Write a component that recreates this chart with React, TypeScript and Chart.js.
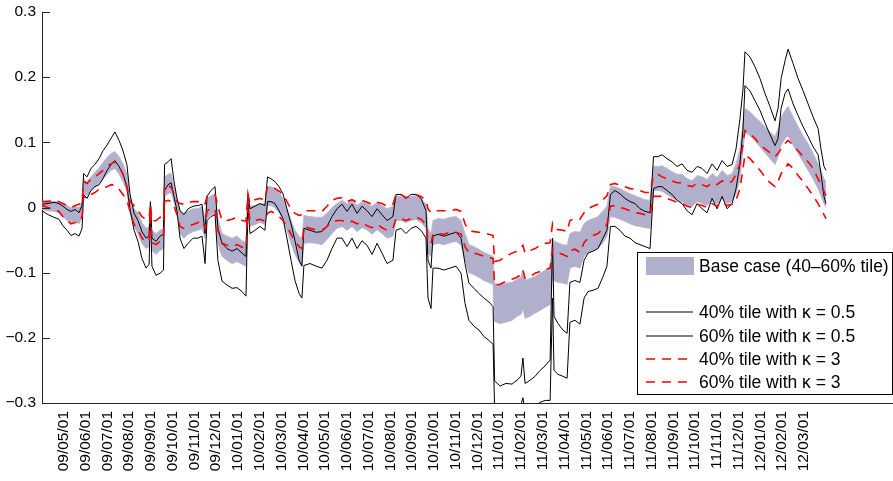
import { useEffect, useRef } from 'react';
import { Chart, registerables } from 'chart.js';

Chart.register(...registerables);

// Month tick labels (yy/mm/dd), placed at whole months counted from 09/04/01
const monthTicks = [
  '09/05/01', '09/06/01', '09/07/01', '09/08/01', '09/09/01', '09/10/01', '09/11/01', '09/12/01',
  '10/01/01', '10/02/01', '10/03/01', '10/04/01', '10/05/01', '10/06/01', '10/07/01', '10/08/01',
  '10/09/01', '10/10/01', '10/11/01', '10/12/01',
  '11/01/01', '11/02/01', '11/03/01', '11/04/01', '11/05/01', '11/06/01', '11/07/01', '11/08/01',
  '11/09/01', '11/10/01', '11/11/01', '11/12/01',
  '12/01/01', '12/02/01', '12/03/01',
];

const yTickValues = [-0.3, -0.2, -0.1, 0, 0.1, 0.2, 0.3];
const yTickLabels = ['\u22120.3', '\u22120.2', '\u22120.1', '0', '0.1', '0.2', '0.3'];

// Time in months since 09/04/01
const months = [
  0.00, 0.28, 0.55, 0.78, 0.96, 1.15, 1.33, 1.52, 1.70, 1.84,
  1.91, 2.07, 2.25, 2.43, 2.62, 2.80, 2.99, 3.17, 3.35, 3.54,
  3.72, 3.90, 4.04, 4.23, 4.41, 4.59, 4.78, 4.92, 4.98, 5.05,
  5.24, 5.42, 5.58, 5.63, 5.79, 5.93, 6.06, 6.20, 6.34, 6.52,
  6.71, 6.94, 7.17, 7.35, 7.49, 7.58, 7.76, 7.95, 8.08, 8.27,
  8.50, 8.73, 8.96, 9.19, 9.37, 9.46, 9.55, 9.78, 10.01, 10.24,
  10.36, 10.52, 10.70, 10.89, 11.07, 11.25, 11.44, 11.62, 11.81, 11.94,
  12.03, 12.31, 12.59, 12.86, 13.09, 13.32, 13.55, 13.78, 14.01, 14.24,
  14.47, 14.70, 14.93, 15.16, 15.39, 15.62, 15.85, 16.12, 16.26, 16.49,
  16.72, 16.95, 17.18, 17.41, 17.64, 17.73, 17.87, 17.96, 18.19, 18.47,
  18.74, 19.02, 19.25, 19.43, 19.61, 19.84, 20.07, 20.30, 20.53, 20.72,
  20.79, 21.04, 21.31, 21.59, 21.82, 22.00, 22.09, 22.19, 22.42, 22.65,
  22.88, 23.11, 23.34, 23.45, 23.52, 23.70, 23.93, 24.12, 24.25, 24.48,
  24.71, 24.90, 25.08, 25.31, 25.54, 25.77, 25.95, 26.11, 26.32, 26.55,
  26.78, 27.01, 27.24, 27.47, 27.70, 27.93, 28.09, 28.30, 28.48, 28.71,
  28.94, 29.17, 29.40, 29.63, 29.86, 30.09, 30.32, 30.55, 30.78, 31.01,
  31.24, 31.47, 31.70, 31.88, 32.06, 32.20, 32.29, 32.52, 32.75, 32.98,
  33.21, 33.44, 33.67, 33.81, 33.95, 34.13, 34.27, 34.50, 34.73, 34.96,
  35.19, 35.42, 35.65, 35.78, 35.92, 36.01,
];

// 60% tile, kappa = 0.5
const kappa05p60 = [
  0.005, 0.006, 0.008, 0.006, 0.002, -0.003, -0.006, -0.003, -0.008, 0.003,
  0.052, 0.047, 0.060, 0.066, 0.075, 0.087, 0.096, 0.106, 0.116, 0.103,
  0.087, 0.066, 0.021, -0.009, -0.020, -0.037, -0.047, -0.044, 0.009, -0.047,
  -0.052, -0.044, -0.041, 0.066, 0.070, 0.075, 0.041, 0.014, -0.005, -0.011,
  -0.002, 0.002, 0.003, 0.005, -0.040, 0.017, 0.026, 0.032, -0.032, -0.055,
  -0.063, -0.067, -0.063, -0.070, -0.075, 0.021, -0.002, 0.002, 0.006, 0.003,
  0.047, 0.044, 0.040, 0.032, 0.021, -0.002, -0.025, -0.051, -0.081, -0.090,
  -0.032, -0.035, -0.038, -0.037, -0.029, -0.014, -0.002, 0.005, -0.006, 0.005,
  -0.009, 0.002, -0.005, -0.014, -0.002, -0.011, -0.020, -0.014, 0.020, 0.020,
  0.014, 0.020, 0.020, 0.014, -0.005, -0.081, -0.093, -0.044, -0.041, -0.044,
  -0.041, -0.038, -0.047, -0.086, -0.116, -0.124, -0.132, -0.139, -0.145, -0.152,
  -0.266, -0.274, -0.270, -0.271, -0.265, -0.259, -0.231, -0.270, -0.265, -0.259,
  -0.250, -0.243, -0.234, -0.047, -0.167, -0.178, -0.188, -0.193, -0.115, -0.112,
  -0.115, -0.081, -0.070, -0.067, -0.063, -0.047, -0.035, 0.020, 0.026, 0.021,
  0.014, 0.009, 0.006, -0.002, -0.006, -0.008, 0.078, 0.078, 0.081, 0.075,
  0.070, 0.063, 0.067, 0.057, 0.054, 0.063, 0.060, 0.052, 0.067, 0.057,
  0.072, 0.063, 0.066, 0.090, 0.136, 0.182, 0.239, 0.231, 0.216, 0.198,
  0.175, 0.155, 0.133, 0.152, 0.198, 0.225, 0.243, 0.221, 0.198, 0.179,
  0.159, 0.139, 0.121, 0.090, 0.063, 0.057,
];

// 40% tile, kappa = 0.5
const kappa05p40 = [
  -0.005, -0.011, -0.015, -0.018, -0.028, -0.035, -0.043, -0.040, -0.044, -0.032,
  0.020, 0.014, 0.026, 0.032, 0.035, 0.044, 0.057, 0.066, 0.072, 0.063,
  0.051, 0.032, -0.002, -0.035, -0.052, -0.078, -0.093, -0.087, -0.006, -0.090,
  -0.104, -0.101, -0.096, 0.026, 0.035, 0.038, 0.017, -0.005, -0.047, -0.063,
  -0.055, -0.047, -0.047, -0.044, -0.086, -0.020, -0.014, -0.011, -0.081, -0.113,
  -0.119, -0.124, -0.123, -0.129, -0.136, 0.006, -0.040, -0.035, -0.029, -0.035,
  0.009, 0.009, 0.006, -0.005, -0.017, -0.047, -0.081, -0.112, -0.132, -0.139,
  -0.089, -0.086, -0.090, -0.093, -0.081, -0.063, -0.047, -0.047, -0.060, -0.047,
  -0.063, -0.051, -0.058, -0.072, -0.055, -0.070, -0.086, -0.081, -0.035, -0.032,
  -0.040, -0.032, -0.029, -0.035, -0.047, -0.139, -0.155, -0.093, -0.093, -0.096,
  -0.093, -0.090, -0.101, -0.147, -0.173, -0.182, -0.188, -0.198, -0.204, -0.210,
  -0.308, -0.315, -0.311, -0.314, -0.308, -0.303, -0.292, -0.311, -0.308, -0.305,
  -0.299, -0.296, -0.296, -0.139, -0.250, -0.256, -0.259, -0.262, -0.176, -0.173,
  -0.179, -0.139, -0.129, -0.127, -0.124, -0.106, -0.090, -0.029, -0.029, -0.035,
  -0.044, -0.047, -0.054, -0.057, -0.060, -0.063, 0.029, 0.032, 0.032, 0.026,
  0.020, 0.011, 0.006, -0.005, -0.011, 0.006, -0.002, -0.008, 0.014, -0.002,
  0.017, -0.002, 0.006, 0.029, 0.067, 0.121, 0.187, 0.179, 0.164, 0.149,
  0.130, 0.112, 0.095, 0.106, 0.152, 0.175, 0.182, 0.159, 0.141, 0.124,
  0.109, 0.093, 0.081, 0.052, 0.017, 0.006,
];

// Base case, 60% tile
const base60 = [
  0.009, 0.011, 0.009, 0.009, 0.006, 0.003, 0.000, 0.002, 0.000, 0.008,
  0.044, 0.038, 0.047, 0.054, 0.061, 0.069, 0.077, 0.083, 0.086, 0.078,
  0.067, 0.051, 0.014, -0.002, -0.009, -0.023, -0.032, -0.029, 0.008, -0.035,
  -0.040, -0.035, -0.032, 0.047, 0.051, 0.052, 0.032, 0.014, -0.005, -0.009,
  -0.005, -0.002, -0.002, 0.002, -0.017, 0.014, 0.018, 0.021, -0.017, -0.040,
  -0.044, -0.047, -0.044, -0.051, -0.054, 0.014, 0.002, 0.003, 0.006, 0.005,
  0.032, 0.032, 0.029, 0.023, 0.014, -0.002, -0.020, -0.035, -0.044, -0.047,
  -0.012, -0.014, -0.015, -0.015, -0.009, 0.000, 0.006, 0.011, 0.006, 0.011,
  0.003, 0.009, 0.006, 0.002, 0.008, 0.003, -0.002, 0.002, 0.018, 0.017,
  0.014, 0.017, 0.018, 0.014, 0.005, -0.032, -0.040, -0.020, -0.017, -0.018,
  -0.015, -0.014, -0.020, -0.040, -0.057, -0.060, -0.064, -0.069, -0.072, -0.075,
  -0.116, -0.119, -0.116, -0.115, -0.110, -0.107, -0.096, -0.112, -0.109, -0.106,
  -0.101, -0.096, -0.093, -0.047, -0.051, -0.054, -0.057, -0.058, -0.040, -0.037,
  -0.038, -0.025, -0.020, -0.017, -0.014, -0.005, 0.002, 0.032, 0.032, 0.029,
  0.025, 0.021, 0.018, 0.015, 0.012, 0.011, 0.063, 0.063, 0.064, 0.060,
  0.055, 0.051, 0.051, 0.044, 0.041, 0.049, 0.047, 0.043, 0.052, 0.046,
  0.057, 0.049, 0.052, 0.067, 0.090, 0.129, 0.152, 0.147, 0.139, 0.132,
  0.124, 0.116, 0.109, 0.121, 0.139, 0.149, 0.155, 0.139, 0.124, 0.110,
  0.098, 0.083, 0.067, 0.057, 0.044, 0.040,
];

// Base case, 40% tile
const base40 = [
  -0.003, -0.005, -0.006, -0.008, -0.014, -0.020, -0.023, -0.021, -0.025, -0.015,
  0.023, 0.018, 0.026, 0.031, 0.038, 0.044, 0.051, 0.057, 0.060, 0.051,
  0.040, 0.025, -0.009, -0.029, -0.040, -0.055, -0.063, -0.060, -0.009, -0.066,
  -0.072, -0.066, -0.063, 0.017, 0.021, 0.023, 0.009, -0.008, -0.040, -0.047,
  -0.041, -0.037, -0.035, -0.032, -0.047, -0.017, -0.011, -0.009, -0.055, -0.075,
  -0.081, -0.086, -0.083, -0.087, -0.090, -0.009, -0.029, -0.026, -0.023, -0.026,
  0.003, 0.003, 0.000, -0.008, -0.017, -0.035, -0.055, -0.072, -0.084, -0.090,
  -0.055, -0.054, -0.055, -0.057, -0.049, -0.040, -0.032, -0.029, -0.035, -0.029,
  -0.037, -0.031, -0.034, -0.041, -0.034, -0.040, -0.047, -0.044, -0.020, -0.020,
  -0.023, -0.020, -0.018, -0.023, -0.032, -0.070, -0.075, -0.057, -0.055, -0.057,
  -0.054, -0.052, -0.058, -0.081, -0.100, -0.103, -0.107, -0.112, -0.115, -0.118,
  -0.175, -0.178, -0.176, -0.173, -0.167, -0.164, -0.155, -0.170, -0.167, -0.162,
  -0.158, -0.153, -0.149, -0.106, -0.112, -0.115, -0.116, -0.118, -0.093, -0.090,
  -0.093, -0.075, -0.069, -0.066, -0.063, -0.054, -0.044, -0.014, -0.015, -0.018,
  -0.021, -0.025, -0.028, -0.029, -0.031, -0.032, 0.026, 0.026, 0.025, 0.020,
  0.015, 0.011, 0.009, 0.003, 0.002, 0.009, 0.006, 0.003, 0.011, 0.005,
  0.014, 0.006, 0.009, 0.021, 0.044, 0.090, 0.116, 0.110, 0.103, 0.093,
  0.084, 0.075, 0.066, 0.078, 0.096, 0.106, 0.110, 0.096, 0.083, 0.070,
  0.057, 0.044, 0.029, 0.018, 0.006, 0.000,
];

// 60% tile, kappa = 3
const kappa3p60 = [
  0.009, 0.009, 0.011, 0.009, 0.006, 0.003, 0.000, 0.003, 0.005, 0.008,
  0.040, 0.037, 0.044, 0.047, 0.052, 0.057, 0.063, 0.067, 0.070, 0.063,
  0.051, 0.032, 0.009, 0.003, -0.005, -0.014, -0.018, -0.017, 0.006, -0.021,
  -0.020, -0.015, -0.014, 0.035, 0.034, 0.031, 0.021, 0.009, 0.006, 0.005,
  0.008, 0.009, 0.009, 0.011, 0.006, 0.017, 0.018, 0.020, 0.002, -0.020,
  -0.020, -0.018, -0.015, -0.020, -0.021, 0.021, 0.006, 0.012, 0.014, 0.011,
  0.032, 0.032, 0.029, 0.025, 0.020, 0.009, -0.002, -0.009, -0.012, -0.011,
  -0.005, -0.005, -0.005, -0.006, 0.002, 0.011, 0.014, 0.015, 0.009, 0.012,
  0.008, 0.011, 0.008, 0.005, 0.008, 0.006, 0.002, 0.005, 0.020, 0.020,
  0.015, 0.018, 0.020, 0.017, 0.011, -0.002, -0.008, -0.006, -0.005, -0.005,
  -0.005, -0.003, -0.006, -0.025, -0.035, -0.037, -0.038, -0.040, -0.041, -0.043,
  -0.083, -0.081, -0.075, -0.070, -0.067, -0.063, -0.058, -0.070, -0.066, -0.063,
  -0.058, -0.055, -0.054, -0.025, -0.032, -0.034, -0.035, -0.037, -0.020, -0.017,
  -0.018, -0.008, -0.002, 0.002, 0.005, 0.012, 0.018, 0.035, 0.037, 0.034,
  0.032, 0.029, 0.028, 0.026, 0.023, 0.023, 0.049, 0.051, 0.047, 0.044,
  0.041, 0.038, 0.038, 0.034, 0.032, 0.037, 0.035, 0.032, 0.038, 0.035,
  0.041, 0.037, 0.040, 0.051, 0.067, 0.098, 0.118, 0.113, 0.106, 0.096,
  0.090, 0.084, 0.078, 0.083, 0.090, 0.098, 0.103, 0.096, 0.087, 0.078,
  0.070, 0.060, 0.044, 0.035, 0.025, 0.018,
];

// 40% tile, kappa = 3
const kappa3p40 = [
  0.003, 0.000, -0.003, -0.006, -0.014, -0.020, -0.025, -0.023, -0.023, -0.014,
  0.017, 0.014, 0.020, 0.023, 0.028, 0.029, 0.032, 0.035, 0.034, 0.028,
  0.020, 0.011, -0.005, -0.026, -0.034, -0.047, -0.052, -0.051, -0.003, -0.054,
  -0.057, -0.052, -0.047, 0.009, 0.011, 0.009, 0.002, -0.011, -0.029, -0.032,
  -0.029, -0.026, -0.023, -0.020, -0.032, -0.005, -0.002, -0.002, -0.035, -0.055,
  -0.058, -0.060, -0.057, -0.061, -0.063, 0.006, -0.020, -0.020, -0.018, -0.021,
  -0.009, -0.006, -0.009, -0.014, -0.020, -0.029, -0.041, -0.052, -0.060, -0.063,
  -0.029, -0.032, -0.034, -0.035, -0.029, -0.023, -0.020, -0.020, -0.023, -0.021,
  -0.025, -0.023, -0.028, -0.031, -0.026, -0.031, -0.035, -0.032, -0.017, -0.017,
  -0.020, -0.017, -0.015, -0.018, -0.026, -0.052, -0.055, -0.041, -0.040, -0.041,
  -0.038, -0.038, -0.041, -0.060, -0.069, -0.070, -0.072, -0.075, -0.077, -0.078,
  -0.119, -0.118, -0.113, -0.110, -0.107, -0.103, -0.096, -0.109, -0.106, -0.101,
  -0.098, -0.095, -0.093, -0.063, -0.066, -0.069, -0.072, -0.075, -0.066, -0.064,
  -0.069, -0.054, -0.047, -0.043, -0.040, -0.032, -0.026, 0.002, 0.003, 0.000,
  -0.002, -0.005, -0.008, -0.009, -0.011, -0.012, 0.017, 0.017, 0.017, 0.014,
  0.011, 0.008, 0.006, 0.002, 0.000, 0.005, 0.003, 0.000, 0.006, 0.002,
  0.009, 0.003, 0.005, 0.011, 0.029, 0.060, 0.081, 0.075, 0.066, 0.057,
  0.047, 0.038, 0.032, 0.040, 0.052, 0.060, 0.067, 0.060, 0.049, 0.040,
  0.029, 0.018, 0.006, -0.002, -0.011, -0.017,
];

const FONT = "'Liberation Sans', Arial, Helvetica, sans-serif";
const BAND = 'rgb(176,176,204)';
const RED = '#ff0000';

const toPoints = (ys: number[]) => ys.map((y, i) => ({ x: months[i], y }));

// Small inward tick marks on the y axis
const innerTicks = {
  id: 'innerTicks',
  afterDatasetsDraw(chart: any) {
    const { ctx, chartArea, scales } = chart;
    const y = scales.y;
    ctx.save();
    ctx.strokeStyle = '#262626';
    ctx.lineWidth = 1;
    for (const v of yTickValues) {
      const py = Math.round(y.getPixelForValue(v)) + 0.5;
      ctx.beginPath();
      ctx.moveTo(chartArea.left, py);
      ctx.lineTo(chartArea.left + 8, py);
      ctx.stroke();
    }
    ctx.restore();
  },
};

// Boxed legend in the lower right corner of the plot
const legendBox = {
  id: 'legendBox',
  afterDraw(chart: any) {
    const { ctx, chartArea } = chart;
    const ds = chart.data.datasets;
    const w = 255;
    const h = 142;
    const left = Math.round(chartArea.right) - w - 1;
    const top = Math.round(chartArea.bottom) - 151;
    ctx.save();
    ctx.fillStyle = '#ffffff';
    ctx.fillRect(left, top, w, h);
    ctx.strokeStyle = '#000000';
    ctx.lineWidth = 1;
    ctx.strokeRect(left + 0.5, top + 0.5, w, h);

    ctx.font = `17.5px ${FONT}`;
    ctx.textBaseline = 'middle';
    ctx.textAlign = 'left';

    const band = ds.find((d: any) => d.legendKind === 'band');
    ctx.fillStyle = BAND;
    ctx.fillRect(left + 9, top + 5, 48, 18);
    ctx.fillStyle = '#000000';
    ctx.fillText(band.label, left + 62, top + 15);

    const lineRows = ['k05p40', 'k05p60', 'k3p40', 'k3p60'];
    const rowY = [60, 84, 107, 130];
    lineRows.forEach((key, i) => {
      const d = ds.find((s: any) => s.legendKind === key);
      const yy = top + rowY[i];
      ctx.save();
      ctx.strokeStyle = d.borderColor;
      ctx.lineWidth = d.borderWidth;
      ctx.setLineDash(d.borderDash || []);
      ctx.beginPath();
      ctx.moveTo(left + 9, yy);
      ctx.lineTo(left + 56, yy);
      ctx.stroke();
      ctx.restore();
      ctx.fillStyle = '#000000';
      ctx.fillText(d.label, left + 62, yy + 1);
    });
    ctx.restore();
  },
};

export default function App() {
  const canvasRef = useRef<HTMLCanvasElement | null>(null);

  useEffect(() => {
    const canvas = canvasRef.current;
    if (!canvas) return;

    const chart = new Chart(canvas, {
      type: 'line',
      data: {
        datasets: [
          {
            label: '60% tile with \u03ba = 3',
            legendKind: 'k3p60',
            data: toPoints(kappa3p60),
            borderColor: RED,
            borderWidth: 1.6,
            borderDash: [9, 7],
            pointRadius: 0,
            fill: false,
          } as any,
          {
            label: '40% tile with \u03ba = 3',
            legendKind: 'k3p40',
            data: toPoints(kappa3p40),
            borderColor: RED,
            borderWidth: 1.6,
            borderDash: [9, 7],
            pointRadius: 0,
            fill: false,
          } as any,
          {
            label: '60% tile with \u03ba = 0.5',
            legendKind: 'k05p60',
            data: toPoints(kappa05p60),
            borderColor: '#000000',
            borderWidth: 1,
            pointRadius: 0,
            fill: false,
          } as any,
          {
            label: '40% tile with \u03ba = 0.5',
            legendKind: 'k05p40',
            data: toPoints(kappa05p40),
            borderColor: '#000000',
            borderWidth: 1,
            pointRadius: 0,
            fill: false,
          } as any,
          {
            label: 'Base case (40\u201360% tile)',
            legendKind: 'band',
            data: toPoints(base60),
            borderColor: 'rgb(188,188,212)',
            borderWidth: 1,
            backgroundColor: BAND,
            pointRadius: 0,
            fill: '+1',
          } as any,
          {
            label: 'Base case 40%',
            legendKind: 'bandLow',
            data: toPoints(base40),
            borderColor: 'rgb(188,188,212)',
            borderWidth: 1,
            pointRadius: 0,
            fill: false,
          } as any,
        ],
      },
      options: {
        animation: false,
        responsive: false,
        devicePixelRatio: 1,
        layout: { padding: { top: 12, right: 0, bottom: 0, left: 0 } },
        plugins: {
          legend: { display: false },
          tooltip: { enabled: false },
        },
        elements: { line: { tension: 0 } },
        scales: {
          x: {
            type: 'linear',
            min: 0,
            max: 39.09,
            grid: { display: false, drawTicks: false },
            border: { display: true, color: '#262626', width: 1 },
            afterBuildTicks: (scale: any) => {
              scale.ticks = monthTicks.map((_, i) => ({ value: i + 1 }));
            },
            afterFit: (scale: any) => {
              scale.height = 78;
            },
            ticks: {
              autoSkip: false,
              minRotation: 90,
              maxRotation: 90,
              padding: 8,
              color: '#000000',
              font: { family: FONT, size: 15.5 },
              callback: (_v: any, i: number) => monthTicks[i],
            },
          },
          y: {
            type: 'linear',
            min: -0.3,
            max: 0.3,
            grid: { display: false, drawTicks: false },
            border: { display: true, color: '#262626', width: 1 },
            afterBuildTicks: (scale: any) => {
              scale.ticks = yTickValues.map((v) => ({ value: v }));
            },
            afterFit: (scale: any) => {
              scale.width = 42;
              scale.paddingTop = 0;
              scale.paddingBottom = 0;
            },
            ticks: {
              padding: 6,
              color: '#000000',
              font: { family: FONT, size: 15.5 },
              callback: (_v: any, i: number) => yTickLabels[i],
            },
          },
        },
      } as any,
      plugins: [innerTicks, legendBox],
    });

    return () => chart.destroy();
  }, []);

  return (
    <div style={{ position: 'absolute', left: 0, top: 0, width: 893, height: 481, background: '#fff' }}>
      <canvas ref={canvasRef} width={893} height={481} style={{ width: 893, height: 481, display: 'block' }} />
    </div>
  );
}
